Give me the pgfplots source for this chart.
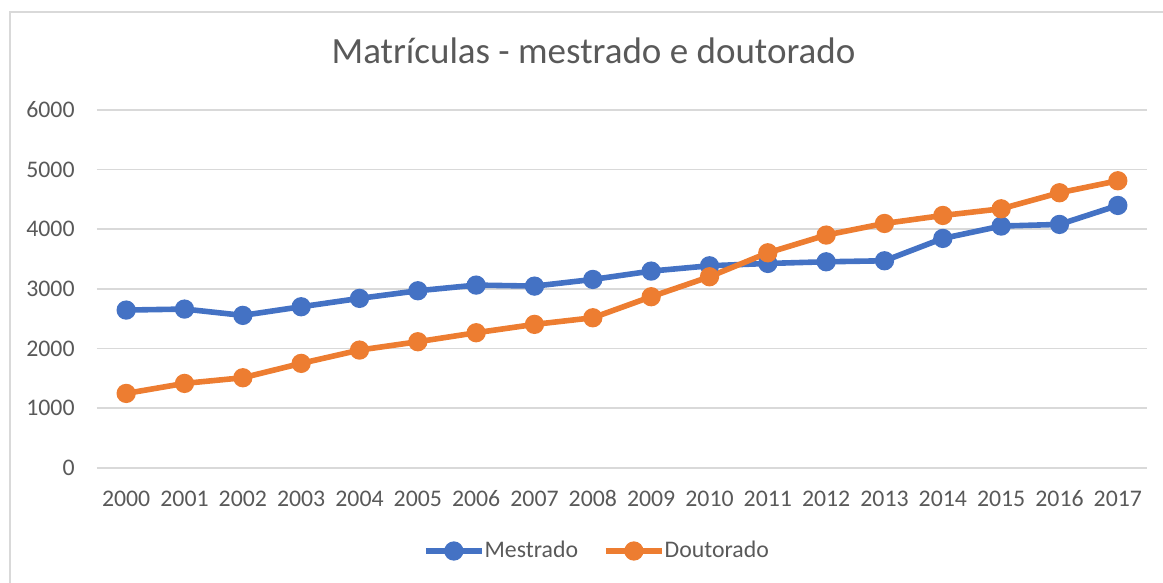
\documentclass[border=0pt]{standalone}
\usepackage{pgfplots}
\pgfplotsset{compat=1.18}
\usepackage{fontspec}
\setmainfont{Carlito}
\definecolor{cblue}{HTML}{4472C4}
\definecolor{corange}{HTML}{ED7D31}
\definecolor{ctext}{HTML}{595959}
\definecolor{cgrid}{HTML}{D9D9D9}
\begin{document}
\begin{tikzpicture}
\useasboundingbox (0,0) rectangle (581.5pt,-291.5pt);
\draw[cgrid, line width=0.8pt] (5pt,-291.5pt) -- (5pt,-6pt) -- (581.5pt,-6pt);
\node[anchor=base, text=ctext, font=\fontsize{18.5pt}{22pt}\selectfont, inner sep=0pt] at (296.75pt,-32pt) {Matrículas - mestrado e doutorado};
\begin{axis}[
  at={(48.5pt,-233.85pt)}, anchor=south west,
  scale only axis, width=525pt, height=178.85pt,
  xmin=-0.5, xmax=17.5, ymin=0, ymax=6000,
  xtick={0,1,...,17},
  xticklabels={2000,2001,2002,2003,2004,2005,2006,2007,2008,2009,2010,2011,2012,2013,2014,2015,2016,2017},
  ytick={0,1000,...,6000},
  /pgf/number format/assume math mode=true,
  /pgf/number format/1000 sep={},
  ymajorgrids, grid style={cgrid, line width=0.8pt},
  axis line style={draw=none}, tick style={draw=none},
  ticklabel style={text=ctext, font=\fontsize{11.9pt}{14pt}\selectfont, inner sep=0pt},
  yticklabel style={anchor=east, xshift=-11pt},
  xticklabel style={anchor=base, yshift=-19.6pt},
  legend style={draw=none, fill=none, inner sep=0pt, outer sep=0pt,
    at={(0.3105,-0.2329)}, anchor=west, legend columns=2,
    nodes={inner sep=0pt, text=ctext, font=\fontsize{11.9pt}{14pt}\selectfont},
    /tikz/every odd column/.append style={column sep=0pt},
    /tikz/every even column/.append style={column sep=12.5pt}},
  legend image code/.code={\draw[mark repeat=2,mark phase=2,#1] plot coordinates {(0pt,0pt) (14pt,0pt) (28pt,0pt)};},
]
\addplot[cblue, line width=2.8pt, mark=*, mark size=3.4pt, mark options={solid}] coordinates {
(0,2644) (1,2661) (2,2555) (3,2700) (4,2840) (5,2968) (6,3063) (7,3046) (8,3158)
(9,3298) (10,3387) (11,3426) (12,3454) (13,3471) (14,3846) (15,4053) (16,4081) (17,4399)};
\addlegendentry{Mestrado}
\addplot[corange, line width=2.8pt, mark=*, mark size=3.4pt, mark options={solid}] coordinates {
(0,1246) (1,1414) (2,1509) (3,1750) (4,1973) (5,2113) (6,2264) (7,2404) (8,2515)
(9,2868) (10,3203) (11,3605) (12,3902) (13,4097) (14,4231) (15,4343) (16,4612) (17,4813)};
\addlegendentry{Doutorado}
\end{axis}
\end{tikzpicture}
\end{document}
